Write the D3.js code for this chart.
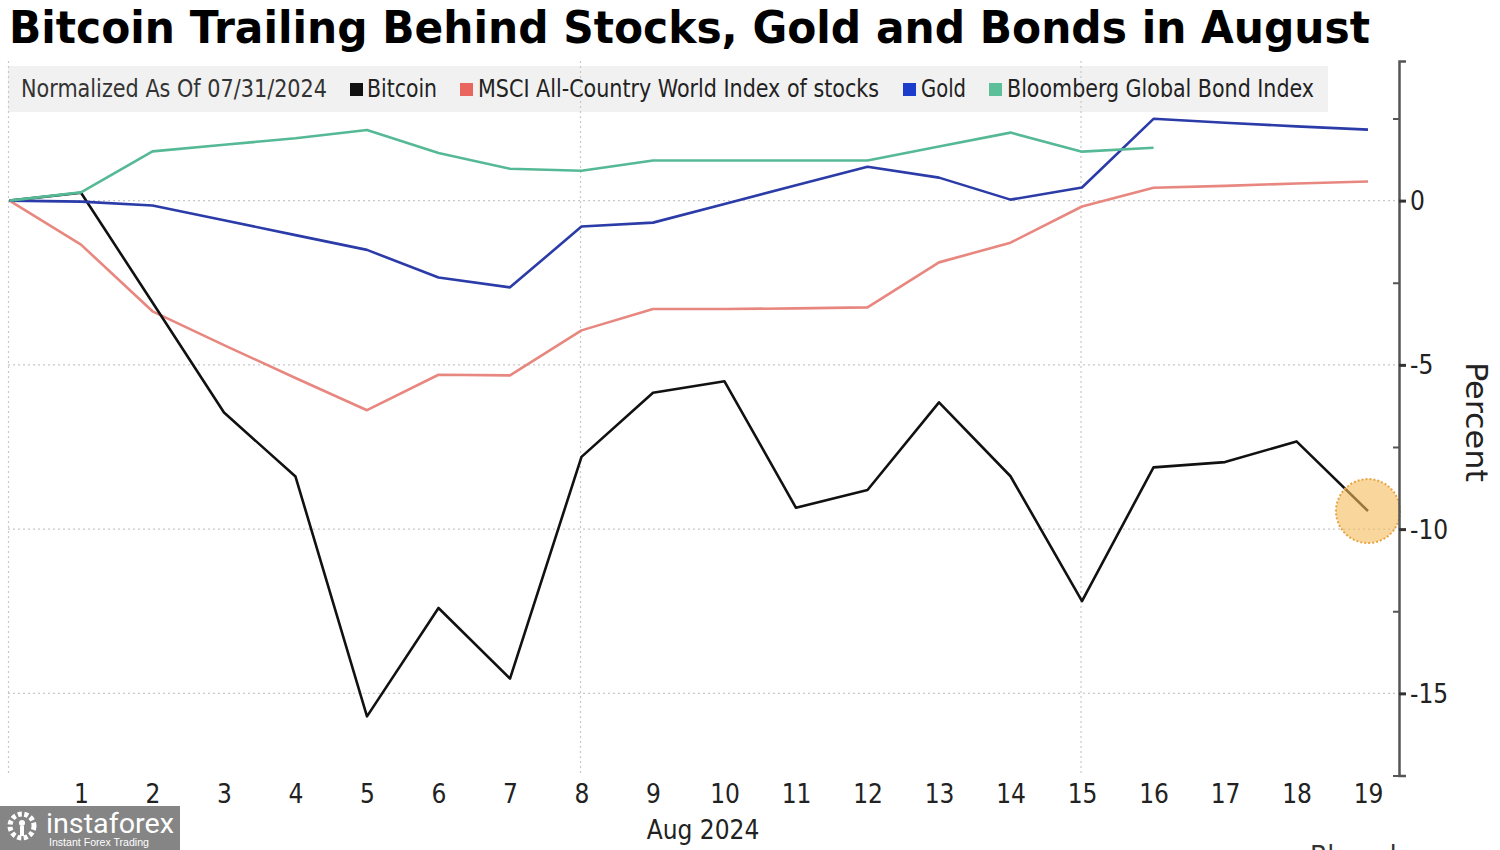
<!DOCTYPE html>
<html>
<head>
<meta charset="utf-8">
<script src="https://cdn.jsdelivr.net/npm/d3@7"></script>
<style>
  html, body { margin: 0; padding: 0; background: #fff; }
  svg { display: block; }
</style>
</head>
<body>
<svg id="chart" width="1500" height="850"></svg>
<script>
// ---- data ----
const days = [0, 1, 2, 3, 4, 5, 6, 7, 8, 9, 10, 11, 12, 13, 14, 15, 16, 17, 18, 19];
const dayLabels = ["", "1", "2", "3", "4", "5", "6", "7", "8", "9", "10", "11", "12", "13", "14", "15", "16", "17", "18", "19"];
const bitcoin = [0, 0.24, -3.1, -6.45, -8.4, -15.7, -12.4, -14.55, -7.8, -5.85, -5.5, -9.35, -8.81, -6.14, -8.39, -12.19, -8.12, -7.96, -7.33, -9.45];
const msci = [0, -1.34, -3.37, -4.4, -5.4, -6.38, -5.3, -5.32, -3.95, -3.3, -3.3, -3.28, -3.25, -1.88, -1.28, -0.18, 0.39, 0.45, 0.52, 0.58];
const gold = [0, -0.03, -0.15, -0.6, -1.05, -1.5, -2.34, -2.64, -0.79, -0.67, -0.1, 0.47, 1.03, 0.7, 0.03, 0.4, 2.49, 2.37, 2.26, 2.16];
const bonds = [0, 0.25, 1.5, 1.7, 1.9, 2.15, 1.45, 0.97, 0.91, 1.22, 1.22, 1.22, 1.22, 1.65, 2.07, 1.49, 1.61];
const yMajorTicks = [0, -5, -10, -15];
const yMinorTicks = [2.5, -2.5, -7.5, -12.5, -17.5];
const gridDays = [0, 8, 15];
const seriesNames = ["Bitcoin", "MSCI All-Country World Index of stocks", "Gold", "Bloomberg Global Bond Index"];
const seriesColors = ["#111111", "#e8877f", "#2b3ba8", "#56b996"];
const legendColors = ["#111111", "#e8665e", "#1c3dcc", "#5cbf9a"];
const title = "Bitcoin Trailing Behind Stocks, Gold and Bonds in August";
const subtitle = "Normalized As Of 07/31/2024";
const xAxisTitle = "Aug 2024";
const yAxisTitle = "Percent";

// ---- layout ----
const svg = d3.select("#chart");
const x = d3.scaleLinear().domain([0, 19]).range([9.5, 1368]);
const y = d3.scaleLinear().domain([-17.5, 4.25]).range([775.5, 61]);
const axisX = 1399;
const narrow = "'Liberation Sans Narrow', 'DejaVu Sans Condensed', 'Roboto Condensed', 'Liberation Sans', sans-serif";

function fitText(sel, target) {
  const w = sel.node().getComputedTextLength();
  if (w > 0) sel.attr("textLength", target).attr("lengthAdjust", "spacingAndGlyphs");
}

// title
const t = svg.append("text")
  .attr("x", 9).attr("y", 43)
  .attr("font-family", "'DejaVu Sans', Verdana, sans-serif")
  .attr("font-weight", "bold")
  .attr("font-size", 45)
  .attr("fill", "#000")
  .text(title);
fitText(t, 1361);

// legend band
svg.append("rect").attr("x", 8).attr("y", 66).attr("width", 1320).attr("height", 46).attr("fill", "#f1f1f1");

// gridlines
const grid = svg.append("g").attr("stroke", "#c8c8c8").attr("stroke-width", 1.2).attr("stroke-dasharray", "2,3");
grid.selectAll("line.h").data(yMajorTicks).join("line")
  .attr("x1", 8).attr("x2", axisX)
  .attr("y1", d => y(d)).attr("y2", d => y(d));
grid.selectAll("line.v").data(gridDays).join("line")
  .attr("x1", d => x(d) - 1).attr("x2", d => x(d) - 1)
  .attr("y1", y(4.25)).attr("y2", y(-17.5));

// legend text
const legY = 97;
const st = svg.append("text").attr("x", 21).attr("y", legY)
  .attr("font-family", narrow).attr("font-size", 24).attr("fill", "#333").text(subtitle);
fitText(st, 306);
const legItems = [
  {sq: 350, tx: 367, w: 70},
  {sq: 460, tx: 478, w: 401},
  {sq: 903, tx: 921, w: 45},
  {sq: 989, tx: 1007, w: 307}
];
legItems.forEach((it, i) => {
  svg.append("rect").attr("x", it.sq).attr("y", 83).attr("width", 13).attr("height", 13).attr("fill", legendColors[i]);
  const tt = svg.append("text").attr("x", it.tx).attr("y", legY)
    .attr("font-family", narrow).attr("font-size", 24).attr("fill", "#222").text(seriesNames[i]);
  fitText(tt, it.w);
});

// lines
const line = d3.line().x((d, i) => x(days[i])).y(d => y(d));
const drawOrder = [1, 0, 2, 3];
const allSeries = [bitcoin, msci, gold, bonds];
drawOrder.forEach(i => {
  svg.append("path").datum(allSeries[i])
    .attr("fill", "none")
    .attr("stroke", seriesColors[i])
    .attr("stroke-width", 2.6)
    .attr("stroke-linejoin", "round")
    .attr("d", line);
});

// highlight circle at last bitcoin point
svg.append("circle")
  .attr("cx", x(days[19])).attr("cy", y(bitcoin[19])).attr("r", 32)
  .attr("fill", "rgba(244,186,90,0.6)")
  .attr("stroke", "#e9a440").attr("stroke-width", 2).attr("stroke-dasharray", "2,2");

// y axis
const yAxis = svg.append("g").attr("transform", `translate(${axisX},0)`)
  .call(d3.axisRight(y).tickValues(yMajorTicks).tickSize(7).tickPadding(4).tickFormat(d => d === 0 ? "0" : "-" + Math.abs(d)));
yAxis.select(".domain").attr("stroke", "#555").attr("stroke-width", 2.5);
yAxis.selectAll(".tick line").attr("stroke", "#333").attr("stroke-width", 3);
yAxis.selectAll(".tick text").attr("font-family", narrow).attr("font-size", 26).attr("fill", "#222").attr("dy", "0.35em");
const yMinor = svg.append("g").attr("transform", `translate(${axisX},0)`)
  .call(d3.axisLeft(y).tickValues(yMinorTicks).tickSize(6).tickFormat(""));
yMinor.select(".domain").remove();
yMinor.selectAll(".tick line").attr("stroke", "#555").attr("stroke-width", 2);

const yt = svg.append("text")
  .attr("transform", `translate(1466, 422) rotate(90)`)
  .attr("text-anchor", "middle")
  .attr("font-family", narrow).attr("font-size", 31).attr("fill", "#222")
  .text(yAxisTitle);
fitText(yt, 120);

// x axis labels
const xAxis = svg.append("g").attr("transform", `translate(0, 776)`)
  .call(d3.axisBottom(x).tickValues(days.slice(1)).tickSize(0).tickPadding(9).tickFormat(d => dayLabels[d]));
xAxis.select(".domain").remove();
xAxis.selectAll(".tick text").attr("font-family", narrow).attr("font-size", 26).attr("fill", "#222");
svg.append("text").attr("x", 703).attr("y", 839).attr("text-anchor", "middle")
  .attr("font-family", narrow).attr("font-size", 26).attr("fill", "#222").text(xAxisTitle);

// source (cut off at bottom edge, as in the reference)
svg.append("text").attr("x", 1310).attr("y", 866)
  .attr("font-family", narrow).attr("font-size", 28).attr("fill", "#333").text("Bloomberg");

// watermark
const wm = svg.append("g");
wm.append("rect").attr("x", 0).attr("y", 806).attr("width", 180).attr("height", 44).attr("fill", "#858585");
wm.append("circle").attr("cx", 22).attr("cy", 826).attr("r", 12).attr("fill", "none").attr("stroke", "#fff").attr("stroke-width", 5).attr("stroke-dasharray", "4,2.5");
wm.append("circle").attr("cx", 22).attr("cy", 823).attr("r", 3).attr("fill", "#fff");
wm.append("rect").attr("x", 20).attr("y", 826).attr("width", 4).attr("height", 10).attr("fill", "#fff");
const wt = wm.append("text").attr("x", 46).attr("y", 833).attr("font-family", "'Liberation Sans Narrow', 'Roboto', sans-serif")
  .attr("font-size", 28).attr("fill", "#fff").text("instaforex");
fitText(wt, 128);
const ws = wm.append("text").attr("x", 49).attr("y", 846).attr("font-family", "'Liberation Sans', Arial, sans-serif")
  .attr("font-size", 10).attr("fill", "#fff").text("Instant Forex Trading");
fitText(ws, 100);
</script>
</body>
</html>
